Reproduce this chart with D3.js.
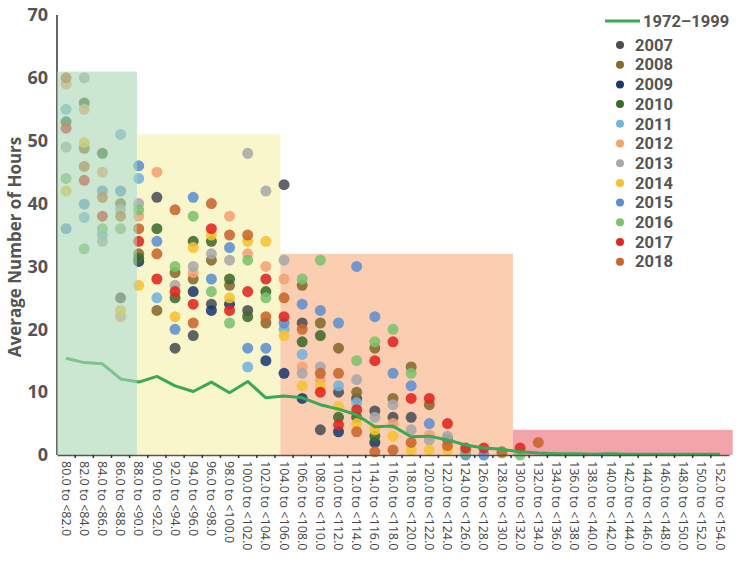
<!DOCTYPE html>
<html>
<head>
<meta charset="utf-8">
<script src="https://d3js.org/d3.v7.min.js"></script>
<style>
	body { margin: 0; background: #fff; }
	svg text { font-family: "Open Sans", "Noto Sans", sans-serif; }
	.tick-y { font-size: 18px; font-weight: 700; fill: #555; }
	.tick-x { font-size: 12.5px; fill: #444; }
	.legend text { font-family: Roboto, "Open Sans", sans-serif; font-size: 16.5px; font-weight: 700; fill: #555; }
</style>
</head>
<body>
<div id="chart"></div>
<script>
// speed bins along the x axis
var categories = [
	"80.0 to <82.0", "82.0 to <84.0", "84.0 to <86.0", "86.0 to <88.0", "88.0 to <90.0",
	"90.0 to <92.0", "92.0 to <94.0", "94.0 to <96.0", "96.0 to <98.0", "98.0 to <100.0",
	"100.0 to <102.0", "102.0 to <104.0", "104.0 to <106.0", "106.0 to <108.0", "108.0 to <110.0",
	"110.0 to <112.0", "112.0 to <114.0", "114.0 to <116.0", "116.0 to <118.0", "118.0 to <120.0",
	"120.0 to <122.0", "122.0 to <124.0", "124.0 to <126.0", "126.0 to <128.0", "128.0 to <130.0",
	"130.0 to <132.0", "132.0 to <134.0", "134.0 to <136.0", "136.0 to <138.0", "138.0 to <140.0",
	"140.0 to <142.0", "142.0 to <144.0", "144.0 to <146.0", "146.0 to <148.0", "148.0 to <150.0",
	"150.0 to <152.0", "152.0 to <154.0"
];
var yTicks = [0, 10, 20, 30, 40, 50, 60, 70];

// 1972-1999 average line
var baseline = [15.4, 14.7, 14.5, 12.1, 11.6, 12.5, 11.0, 10.1, 11.6, 9.9, 11.7, 9.1, 9.4,
	9.1, 8.0, 7.3, 6.4, 4.5, 4.6, 2.9, 3.0, 2.4, 1.6, 1.1, 0.9, 0.5, 0.3, 0.2, 0.2, 0.1,
	0.2, 0.1, 0.1, 0.1, 0.1, 0.1, 0.1];

// yearly points, one value per bin (null = no point)
var n = null;
var y2007 = [n, n, n, 25, n, 41, 17, 19, 24, n, 23, n, 43, 21, 4, 10, 9, 7, 6, 6, n, n, n, n, n, n, n, n, n, n, n, n, n, n, n, n, n];
var y2008 = [n, 48.8, n, 40, 32, 23, 29, 28, 31, 27, n, 21, n, 27, 21, 17, 10, 17, 9, 14, 8, 2.5, n, n, n, n, n, n, n, n, n, n, n, n, n, n, n];
var y2009 = [n, n, n, n, 30.8, n, n, 26, 23, 24, n, 15, 13, 9, n, 3.7, n, 2, n, n, n, n, n, n, n, n, n, n, n, n, n, n, n, n, n, n, n];
var y2010 = [53, 56, 48, n, 31.3, 36, 25, 34, 34, 28, 22, 26, n, 18, 19, 6, 6, 3, n, n, n, n, n, n, n, n, n, n, n, n, n, n, n, n, n, n, n];
var y2011 = [55, 37.8, 35, 51, 44, 25, n, n, n, n, 14, n, 20, 16, n, 11, 8.3, n, n, n, n, n, n, n, n, n, n, n, n, n, n, n, n, n, n, n, n];
var y2012 = [59, 55, 45, 22, 38, 45, n, 29, n, 38, 32, 30, 28, 14, 12, n, n, n, 5, n, 3.2, n, n, n, n, n, n, n, n, n, n, n, n, n, n, n, n];
var y2013 = [49, 60, 34, 39, 40, n, 27, 30, 32, 31, 48, 42, 31, 13, 14, n, 12, 6, 8, 4, 2.4, 3, n, n, n, n, n, n, n, n, n, n, n, n, n, n, n];
var y2014 = [42, 49.7, n, 23, 27, n, 22, 33, 35, 25, 34, 34, 19, 11, 11, 7.7, 5, 4, 3, 0.8, 0.8, 0.8, n, n, n, n, n, n, n, n, n, n, n, n, n, n, n];
var y2015 = [36, 39.9, 42, 42, 46, 34, 20, 41, 28, 33, 17, 17, 21, 24, 23, 21, 30, 22, 13, 11, 5, n, 0, 0, n, n, n, n, n, n, n, n, n, n, n, n, n];
var y2016 = [44, 32.8, 36, 36, 39, n, 30, 38, 26, 21, 31, 25, n, 28, 31, n, 15, 18, 20, 13, n, n, 0.5, n, 0.3, 0, n, n, n, n, n, n, n, n, n, n, n];
var y2017 = [52, 43.7, 38, n, 34, 28, 26, 24, 36, 23, 26, 28, 22, n, 10, 4.8, 7.2, 15, 18, 9, 9, 5, 1.1, 1.1, n, 1.1, n, n, n, n, n, n, n, n, n, n, n];
var y2018 = [60, 45.9, 41, 38, 36, 32, 39, 21, 40, 35, 35, 22, 25, 20, 13, 13, 3.7, 0.5, 0.8, 2, n, 1.5, n, n, 0.5, n, 2, n, n, n, n, n, n, n, n, n, n];

var years = ["2007", "2008", "2009", "2010", "2011", "2012", "2013", "2014", "2015", "2016", "2017", "2018"];
var yearValues = [y2007, y2008, y2009, y2010, y2011, y2012, y2013, y2014, y2015, y2016, y2017, y2018];
var yearColors = ["#4a4f55", "#86692e", "#1d3a6e", "#3c6a2c", "#74b3dc", "#f2a275", "#a8a8a8",
	"#f6c232", "#5d8fcf", "#7cc26d", "#e0261f", "#c8652c"];

// shaded zones: [start bin position, end bin position, top value]
var zoneStart = [0, 4.4, 12.3, 25.1];
var zoneEnd = [4.4, 12.3, 25.1, 37.2];
var zoneTop = [61, 51, 32, 4];
var zoneColors = ["#a9d6b2", "#faf6cc", "#fbcdb1", "#f2a4aa"];

const
	W = 742, H = 564,
	LEFT = 57, RIGHT = 729, TOP = 15, BOTTOM = 455,
	DOT_R = 5.5;

var svg = d3.select("#chart").append("svg")
	.attr("width", W)
	.attr("height", H);

var x = d3.scaleBand().domain(categories).range([LEFT, RIGHT]).padding(0);
var y = d3.scaleLinear().domain([0, 70]).range([BOTTOM, TOP]);
var cx = function(c) { return x(c) + x.bandwidth() / 2; };
var binPos = function(p) { return LEFT + p * x.step(); };

// zones behind the points (green one is laid on top later)
svg.selectAll(".zone")
	.data([1, 2, 3])
	.enter().append("rect")
	.attr("class", "zone")
	.attr("x", function(i) { return binPos(zoneStart[i]); })
	.attr("width", function(i) { return binPos(zoneEnd[i]) - binPos(zoneStart[i]); })
	.attr("y", function(i) { return y(zoneTop[i]); })
	.attr("height", function(i) { return y(0) - y(zoneTop[i]); })
	.style("fill", function(i) { return zoneColors[i]; });

// y axis line
svg.append("line")
	.attr("x1", LEFT).attr("x2", LEFT)
	.attr("y1", y(70)).attr("y2", y(0))
	.style("stroke", "#666").style("stroke-width", 2);

svg.selectAll(".tick-y")
	.data(yTicks)
	.enter().append("text")
	.attr("class", "tick-y")
	.attr("x", 48)
	.attr("y", function(d) { return y(d); })
	.attr("dy", ".35em")
	.style("text-anchor", "end")
	.text(function(d) { return d; });

svg.append("text")
	.attr("transform", "translate(21," + ((TOP + BOTTOM) / 2 + 12) + ") rotate(-90)")
	.style("text-anchor", "middle")
	.style("font-size", "17px")
	.style("font-weight", 700)
	.style("fill", "#555")
	.text("Average Number of Hours");

// points
yearValues.forEach(function(vals, k) {
	var pts = [];
	vals.forEach(function(v, i) { if (v !== null) pts.push({c: categories[i], v: v}); });
	svg.append("g").selectAll("circle")
		.data(pts)
		.enter().append("circle")
		.attr("cx", function(d) { return cx(d.c); })
		.attr("cy", function(d) { return y(d.v); })
		.attr("r", DOT_R)
		.style("fill", yearColors[k])
		.style("opacity", 0.88);
});

// 1972-1999 line
var line = d3.line()
	.x(function(d, i) { return cx(categories[i]); })
	.y(function(d) { return y(d); });
svg.append("path")
	.datum(baseline)
	.attr("d", line)
	.style("fill", "none")
	.style("stroke", "#3aa857")
	.style("stroke-width", 3)
	.style("stroke-linejoin", "round");

// green zone drawn over axis, points and line (as in the original)
svg.append("rect")
	.attr("x", binPos(zoneStart[0]))
	.attr("width", binPos(zoneEnd[0]) - binPos(zoneStart[0]))
	.attr("y", y(zoneTop[0]))
	.attr("height", y(0) - y(zoneTop[0]))
	.style("fill", zoneColors[0])
	.style("opacity", 0.6);

// x axis
var xAxis = d3.axisBottom(x).tickSize(0).tickFormat("");
svg.append("g")
	.attr("transform", "translate(0," + BOTTOM + ")")
	.call(xAxis)
	.call(function(g) { g.select(".domain").style("stroke", "#555").style("stroke-width", 1.5); });

svg.selectAll(".xmark")
	.data(categories.slice(1))
	.enter().append("line")
	.attr("x1", function(d) { return x(d); })
	.attr("x2", function(d) { return x(d); })
	.attr("y1", BOTTOM).attr("y2", BOTTOM + 3)
	.style("stroke", "#333").style("stroke-width", 1.5);

svg.selectAll(".tick-x")
	.data(categories)
	.enter().append("text")
	.attr("class", "tick-x")
	.attr("transform", function(d) { return "translate(" + cx(d) + "," + (BOTTOM + 6) + ") rotate(90)"; })
	.attr("dy", ".35em")
	.style("text-anchor", "start")
	.text(function(d) { return d; });

// legend
var legend = svg.append("g").attr("class", "legend");
legend.append("line")
	.attr("x1", 605).attr("x2", 640)
	.attr("y1", 21).attr("y2", 21)
	.style("stroke", "#3aa857").style("stroke-width", 3);
legend.append("text")
	.attr("x", 643).attr("y", 21)
	.attr("dy", ".35em")
	.text("1972\u20131999");

var items = legend.selectAll(".item")
	.data(years)
	.enter().append("g")
	.attr("transform", function(d, i) { return "translate(620," + (45 + i * 19.7) + ")"; });
items.append("circle")
	.attr("r", 4)
	.style("fill", function(d, i) { return yearColors[i]; });
items.append("text")
	.attr("x", 15)
	.attr("dy", ".35em")
	.text(function(d) { return d; });
</script>
</body>
</html>
